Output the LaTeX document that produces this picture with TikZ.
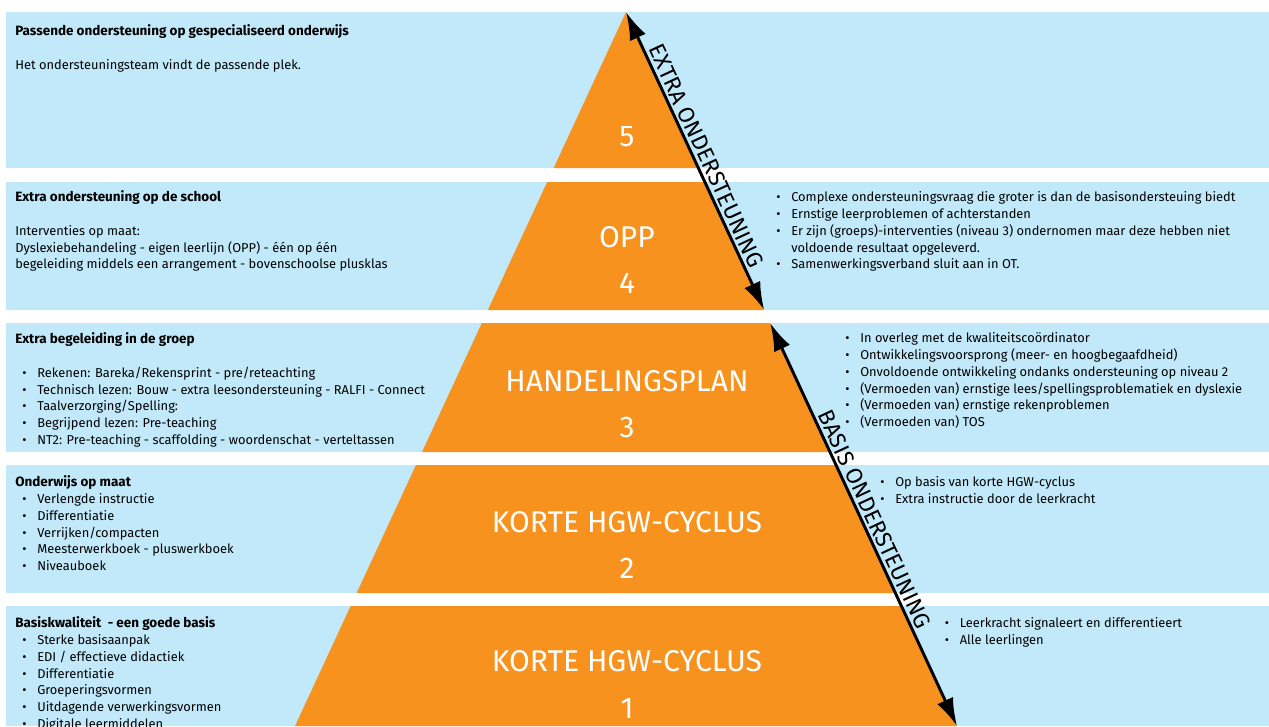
\documentclass[tikz,border=0pt]{standalone}
\usepackage{fontspec}
\setmainfont{Fira Sans}
\usetikzlibrary{arrows.meta}

\definecolor{bandblue}{RGB}{193,233,250}
\definecolor{pyrorange}{RGB}{247,146,30}

\newcommand\tp{\rule{0pt}{9pt}}
\newcommand\hd[1]{{\fontsize{10.1}{12.56}\selectfont\bfseries #1}}
\newcommand\itm{\makebox[11.25pt][l]{\textbullet}}
\newcommand\ind{\hspace*{5.25pt}\itm}

\begin{document}
\begin{tikzpicture}[x=0.75pt,y=-0.75pt]
\tikzset{band/.style = {fill=bandblue}}
\tikzset{txt/.style = {anchor=north west,align=left,inner sep=0pt,font=\fontsize{9.65}{12.56}\selectfont}}
\tikzset{lvl/.style = {text=white,inner sep=0pt,font=\fontsize{22.5}{24}\selectfont}}
\tikzset{edge/.style = {{Latex[length=21pt,width=13pt]}-{Latex[length=21pt,width=13pt]},line width=2.2pt}}
\tikzset{axis/.style = {sloped,above,pos=0.5,inner sep=2pt,font=\fontsize{17}{20}\selectfont}}
\useasboundingbox (0,0) rectangle (1269,726);

% blue bands
\foreach \t/\b in {12/168,182/310,323/452,465/593,606/726}
  \fill[band] (6,\t) rectangle (1269,\b);

% pyramid, cut into five levels
\begin{scope}
\clip (6,12) rectangle (1269,168) (6,182) rectangle (1269,310) (6,323) rectangle (1269,452)
      (6,465) rectangle (1269,593) (6,606) rectangle (1269,726);
\fill[pyrorange] (626,12) -- (957,726) -- (295,726) -- cycle;
\end{scope}

\node[lvl] (n5) at (627,137) {5};
\node[lvl] (opp) at (627,237) {OPP};
\node[lvl] (n4) at (627,283) {4};
\node[lvl] (hp) at (627,381) {HANDELINGSPLAN};
\node[lvl] (n3) at (627,427) {3};
\node[lvl] (hgw2) at (627,522) {KORTE HGW-CYCLUS};
\node[lvl] (n2) at (627,568) {2};
\node[lvl] (hgw1) at (627,661) {KORTE HGW-CYCLUS};
\node[lvl] (n1) at (627,708) {1};

% arrows along the right side
\coordinate (apex) at (626,12);
\coordinate (xend) at (764.2,310);
\coordinate (bstart) at (770.2,323);
\coordinate (bend) at (957,726);
\draw[edge] (apex) -- node[axis] (xlab) {EXTRA ONDERSTEUNING} (xend);
\draw[edge] (bstart) -- node[axis] (blab) {BASIS ONDERSTEUNING} (bend);

% level 5
\node[txt] (h5) at (15,23.5) {\tp\hd{Passende ondersteuning op gespecialiseerd onderwijs}};
\node[txt] (t5) at (15,57.5) {\tp Het ondersteuningsteam vindt de passende plek.};

% level 4
\node[txt] (l4) at (15,189.5) {\tp\hd{Extra ondersteuning op de school}\\[12.56pt]
  Interventies op maat:\\
  Dyslexiebehandeling - eigen leerlijn (OPP) - één op één\\
  begeleiding middels een arrangement - bovenschoolse plusklas};
\node[txt] (r4) at (776,189.5) {\tp\itm Complexe ondersteuningsvraag die groter is dan de basisondersteuing biedt\\
  \itm Ernstige leerproblemen of achterstanden\\
  \itm Er zijn (groeps)-interventies (niveau 3) ondernomen maar deze hebben niet\\
  \hspace*{11.25pt}voldoende resultaat opgeleverd.\\
  \itm Samenwerkingsverband sluit aan in OT.};

% level 3
\node[txt] (l3) at (15,331.5) {\tp\hd{Extra begeleiding in de groep}\\[12.56pt]
  \ind Rekenen: Bareka/Rekensprint - pre/reteachting\\
  \ind Technisch lezen: Bouw - extra leesondersteuning - RALFI - Connect\\
  \ind Taalverzorging/Spelling:\\
  \ind Begrijpend lezen: Pre-teaching\\
  \ind NT2: Pre-teaching - scaffolding - woordenschat - verteltassen};
\node[txt] (r3) at (845,330.5) {\tp\itm In overleg met de kwaliteitscoördinator\\
  \itm Ontwikkelingsvoorsprong (meer- en hoogbegaafdheid)\\
  \itm Onvoldoende ontwikkeling ondanks ondersteuning op niveau 2\\
  \itm (Vermoeden van) ernstige lees/spellingsproblematiek en dyslexie\\
  \itm (Vermoeden van) ernstige rekenproblemen\\
  \itm (Vermoeden van) TOS};

% level 2
\node[txt] (l2) at (15,474.5) {\tp\hd{Onderwijs op maat}\\
  \ind Verlengde instructie\\
  \ind Differentiatie\\
  \ind Verrijken/compacten\\
  \ind Meesterwerkboek - pluswerkboek\\
  \ind Niveauboek};
\node[txt] (r2) at (880,474.5) {\tp\itm Op basis van korte HGW-cyclus\\
  \itm Extra instructie door de leerkracht};

% level 1
\node[txt] (l1) at (15,615.5) {\tp\hd{Basiskwaliteit~ - een goede basis}\\
  \ind Sterke basisaanpak\\
  \ind EDI / effectieve didactiek\\
  \ind Differentiatie\\
  \ind Groeperingsvormen\\
  \ind Uitdagende verwerkingsvormen\\
  \ind Digitale leermiddelen};
\node[txt] (r1) at (944.5,615.5) {\tp\itm Leerkracht signaleert en differentieert\\
  \itm Alle leerlingen};
\end{tikzpicture}
\end{document}
